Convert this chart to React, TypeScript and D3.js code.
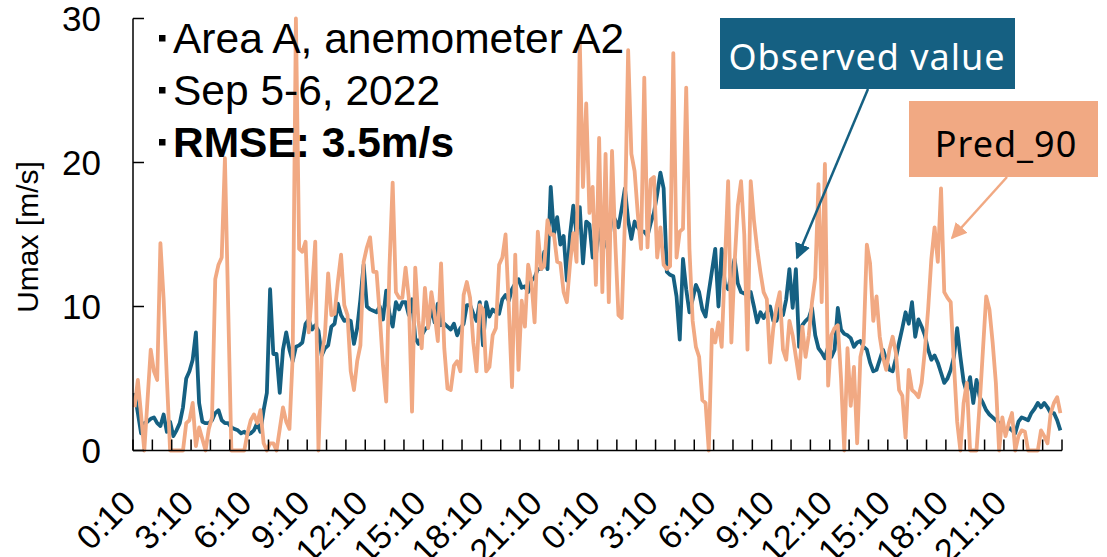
import { useMemo } from "react";
import { scaleBand, scaleLinear, line, range } from "d3";

// 10-minute Umax values, Sep 5 0:10 -> Sep 7 0:00 (288 points)
const OBSERVED = [
  4.0, 2.6, 1.2, 1.9, 2.0, 2.2, 2.3, 1.9, 1.7, 2.5, 1.3, 2.0,
  1.0, 1.4, 1.9, 3.0, 5.0, 5.5, 6.3, 8.2, 3.3, 2.0, 1.9, 1.9,
  2.1, 2.6, 2.8, 2.1, 1.9, 1.9, 1.6, 1.5, 1.4, 1.2, 1.3, 1.1,
  1.2, 1.4, 1.9, 1.3, 2.8, 4.0, 11.2, 6.7, 6.7, 4.0, 7.0, 8.2,
  7.0, 6.2, 7.2, 7.3, 7.5, 8.8, 9.1, 8.4, 8.7, 8.3, 6.6, 7.1,
  7.3, 8.6, 8.8, 10.2, 9.4, 9.0, 9.1, 9.0, 7.4, 8.5, 10.5, 12.9,
  10.0, 9.8, 9.7, 9.6, 10.0, 9.1, 11.1, 9.5, 8.6, 10.3, 9.8, 10.3,
  10.3, 9.4, 10.5, 7.8, 7.4, 8.0, 8.4, 8.6, 10.0, 8.9, 10.2, 8.7,
  8.8, 8.6, 8.4, 8.8, 8.0, 8.5, 8.8, 10.1, 10.1, 9.5, 9.0, 10.3,
  7.3, 10.3, 9.3, 9.8, 9.6, 9.5, 10.5, 10.8, 10.4, 11.2, 11.6, 11.9,
  11.3, 11.4, 11.0, 11.8, 12.0, 12.6, 12.6, 13.8, 12.6, 18.3, 15.0, 16.2,
  14.3, 14.9, 11.8, 15.0, 17.0, 15.0, 16.9, 13.0, 15.9, 15.7, 13.4, 13.5,
  16.0, 13.8, 14.5, 14.2, 16.5, 16.0, 15.5, 16.8, 18.2, 16.0, 14.7, 15.9,
  15.5, 15.2, 15.2, 14.9, 15.8, 16.5, 17.8, 19.3, 18.2, 12.4, 12.2, 12.1,
  10.7, 7.7, 13.3, 11.2, 9.6, 10.5, 11.5, 11.0, 9.8, 9.3, 11.0, 12.5,
  14.0, 10.0, 14.0, 11.5, 11.2, 12.2, 13.3, 11.6, 11.0, 10.9, 10.8, 11.0,
  10.0, 8.9, 9.6, 9.2, 9.6, 10.0, 9.0, 9.0, 9.9, 9.4, 10.5, 12.6,
  9.9, 12.6, 7.2, 8.7, 9.0, 9.2, 9.9, 8.0, 7.1, 6.8, 6.4, 7.2,
  6.5, 7.0, 9.9, 8.4, 8.1, 8.0, 7.8, 7.2, 7.5, 7.6, 7.2, 7.0,
  6.1, 5.5, 5.6, 6.3, 7.0, 6.3, 5.6, 5.5, 6.4, 7.5, 8.5, 9.6,
  8.8, 10.3, 7.9, 9.1, 8.6, 8.0, 7.0, 6.3, 6.6, 6.1, 5.4, 4.7,
  5.0, 5.6, 6.5, 8.5, 6.5, 4.8, 4.0, 5.1, 3.3, 4.9, 3.7, 3.3,
  2.8, 2.5, 2.3, 2.1, 1.9, 1.6, 1.4, 1.6, 1.4, 1.2, 2.0, 2.3,
  2.2, 2.1, 2.6, 2.9, 3.3, 3.0, 3.3, 3.0, 2.6, 2.6, 2.1, 1.4,
];

const PRED_90 = [
  3.0, 4.9, 2.5, 0, 3.5, 7.0, 5.5, 4.9, 14.4, 10.5, 5.0, 0,
  0, 0, 0, 0, 1.9, 2.1, 3.3, 0.3, 1.6, 0.8, 0, 1.5,
  2.3, 11.9, 12.9, 13.4, 20.3, 10.0, 0, 0, 0, 0, 0, 1.2,
  2.1, 2.5, 1.9, 2.8, 0.5, 0, 0.5, 0.5, 0, 1.5, 3.0, 2.0,
  1.5, 6.5, 30, 14.0, 13.8, 14.5, 8.2, 11.0, 14.5, 0, 6.6, 8.0,
  12.3, 9.4, 9.5, 11.7, 13.6, 10.1, 9.4, 5.5, 4.2, 6.2, 7.3, 13.1,
  14.1, 14.8, 12.4, 12.4, 9.4, 5.9, 3.4, 12.7, 18.6, 11.0, 10.6, 10.6,
  12.7, 10.6, 2.7, 12.7, 9.0, 7.1, 11.3, 8.5, 11.0, 9.5, 7.6, 13.0,
  7.1, 4.3, 4.2, 5.9, 6.2, 5.5, 10.8, 11.7, 10.6, 7.5, 5.5, 10.1,
  9.8, 5.5, 5.8, 8.0, 8.5, 12.9, 13.4, 15.0, 10.0, 4.4, 13.6, 5.6,
  10.4, 8.6, 12.9, 11.8, 8.9, 15.2, 12.6, 12.8, 16.0, 15.0, 15.0, 13.1,
  13.0, 11.0, 10.3, 13.0, 15.1, 13.1, 28.5, 18.3, 24.1, 16.5, 18.3, 11.5,
  21.7, 11.0, 20.6, 10.3, 20.8, 14.5, 9.4, 9.2, 16.0, 27.8, 20.6, 19.4,
  16.4, 14.0, 25.9, 14.1, 18.8, 19.0, 13.4, 15.5, 12.9, 12.6, 12.8, 27.6,
  13.4, 15.2, 15.4, 25.2, 14.0, 9.0, 7.2, 6.5, 3.5, 3.3, 0, 8.4,
  7.5, 8.9, 7.2, 13.0, 18.7, 7.5, 13.0, 17.0, 18.7, 15.0, 7.0, 18.7,
  16.0, 14.0, 12.4, 11.0, 10.5, 6.1, 8.5, 10.0, 11.0, 7.0, 6.3, 9.0,
  8.0, 6.5, 5.0, 8.6, 6.5, 8.0, 10.3, 12.0, 18.5, 10.3, 19.9, 4.5,
  8.0, 8.5, 8.7, 5.0, 0, 7.1, 3.1, 5.8, 0.5, 6.5, 7.5, 14.3,
  13.0, 9.0, 10.7, 7.9, 6.5, 5.6, 7.0, 7.9, 6.8, 4.2, 3.8, 0.9,
  5.6, 4.2, 4.0, 3.7, 4.7, 7.0, 9.8, 13.3, 15.5, 13.1, 18.2, 11.0,
  10.6, 10.3, 6.0, 2.0, 0, 3.3, 4.7, 0, 0, 0, 3.3, 7.0,
  10.7, 9.8, 7.5, 4.7, 0, 2.3, 1.0, 1.9, 2.6, 0, 1.0, 1.4,
  1.3, 0, 0, 0, 0, 1.4, 1.0, 0.5, 2.6, 3.3, 3.7, 2.6,
];

const TICK_LABELS = [
  "0:10", "3:10", "6:10", "9:10", "12:10", "15:10", "18:10", "21:10",
  "0:10", "3:10", "6:10", "9:10", "12:10", "15:10", "18:10", "21:10",
];
const Y_TICKS = [0, 10, 20, 30];
const NOTE_LINES = ["Area A, anemometer A2", "Sep 5-6, 2022", "RMSE: 3.5m/s"];

const BLUE = "#156082";
const SALMON = "#F1A983";
const FONT = "'Liberation Sans', Arial, sans-serif";

export default function App() {
  const width = 1107;
  const height = 557;
  const left = 133;
  const right = 1062;
  const bottom = 450.5;
  const top = 18.5;

  const x = useMemo(
    () => scaleBand<number>().domain(range(OBSERVED.length)).range([left, right]).padding(0),
    []
  );
  const y = useMemo(() => scaleLinear().domain([0, 30]).range([bottom, top]), []);
  const bw = x.bandwidth();

  const path = line<number>()
    .x((_, i) => (x(i) ?? 0) + bw / 2)
    .y((d) => y(d));

  const hourTicks = range(0, OBSERVED.length + 1, 6).map((i) => left + i * bw);

  return (
    <svg
      width={width}
      height={height}
      style={{ position: "absolute", left: 0, top: 0, background: "#fff" }}
      fontFamily={FONT}
    >
      <defs>
        <marker id="headBlue" viewBox="0 0 10 10" refX="9" refY="5" markerWidth="16" markerHeight="16" markerUnits="userSpaceOnUse" orient="auto">
          <path d="M0,0 L10,5 L0,10 z" fill={BLUE} />
        </marker>
        <marker id="headSalmon" viewBox="0 0 10 10" refX="9" refY="5" markerWidth="16" markerHeight="16" markerUnits="userSpaceOnUse" orient="auto">
          <path d="M0,0 L10,5 L0,10 z" fill={SALMON} />
        </marker>
      </defs>

      {/* series */}
      <path d={path(OBSERVED) ?? ""} fill="none" stroke={BLUE} strokeWidth={3.8} strokeLinejoin="round" />
      <path d={path(PRED_90) ?? ""} fill="none" stroke={SALMON} strokeWidth={3.8} strokeLinejoin="round" />

      {/* axes */}
      <line x1={left} x2={left} y1={top} y2={bottom} stroke="#000" strokeWidth={1.5} />
      <line x1={left} x2={right} y1={bottom} y2={bottom} stroke="#000" strokeWidth={1.5} />
      {Y_TICKS.map((t) => (
        <g key={t}>
          <line x1={left} x2={left + 11} y1={y(t)} y2={y(t)} stroke="#000" strokeWidth={1.5} />
          <text x={101} y={y(t)} dy="0.36em" textAnchor="end" fontSize={35}>
            {t}
          </text>
        </g>
      ))}
      {hourTicks.map((tx, i) => (
        <line key={i} x1={tx} x2={tx} y1={bottom} y2={bottom - 11} stroke="#000" strokeWidth={1.5} />
      ))}
      {TICK_LABELS.map((lab, k) => {
        const cx = (x(k * 18) ?? 0) + bw / 2 + 3;
        return (
          <text key={k} transform={`translate(${cx},505) rotate(-45)`} textAnchor="end" fontSize={34}>
            {lab}
          </text>
        );
      })}
      <text transform="translate(38,237) rotate(-90)" textAnchor="middle" fontSize={30}>
        Umax [m/s]
      </text>

      {/* notes */}
      {NOTE_LINES.map((s, i) => (
        <g key={s}>
          <rect x={159} y={35 + i * 52} width={6.5} height={6.5} fill="#000" />
          <text x={173} y={53 + i * 52} fontSize={42.5} fontWeight={i === 2 ? "bold" : "normal"}>
            {s}
          </text>
        </g>
      ))}

      {/* callouts */}
      <rect x={720} y={18} width={295} height={71} fill={BLUE} />
      <text x={867} y={70} textAnchor="middle" fontSize={36} fill="#fff" fontFamily="'Noto Sans', sans-serif" letterSpacing={1}>
        Observed value
      </text>
      <line x1={868} y1={89} x2={797} y2={258} stroke={BLUE} strokeWidth={2.5} markerEnd="url(#headBlue)" />

      <rect x={909} y={101} width={189} height={76} fill={SALMON} />
      <text x={1006} y={157} textAnchor="middle" fontSize={36} fill="#000" fontFamily="'Noto Sans', sans-serif" letterSpacing={1}>
        Pred_90
      </text>
      <line x1={1007} y1={177} x2={952} y2={238} stroke={SALMON} strokeWidth={2.5} markerEnd="url(#headSalmon)" />
    </svg>
  );
}
